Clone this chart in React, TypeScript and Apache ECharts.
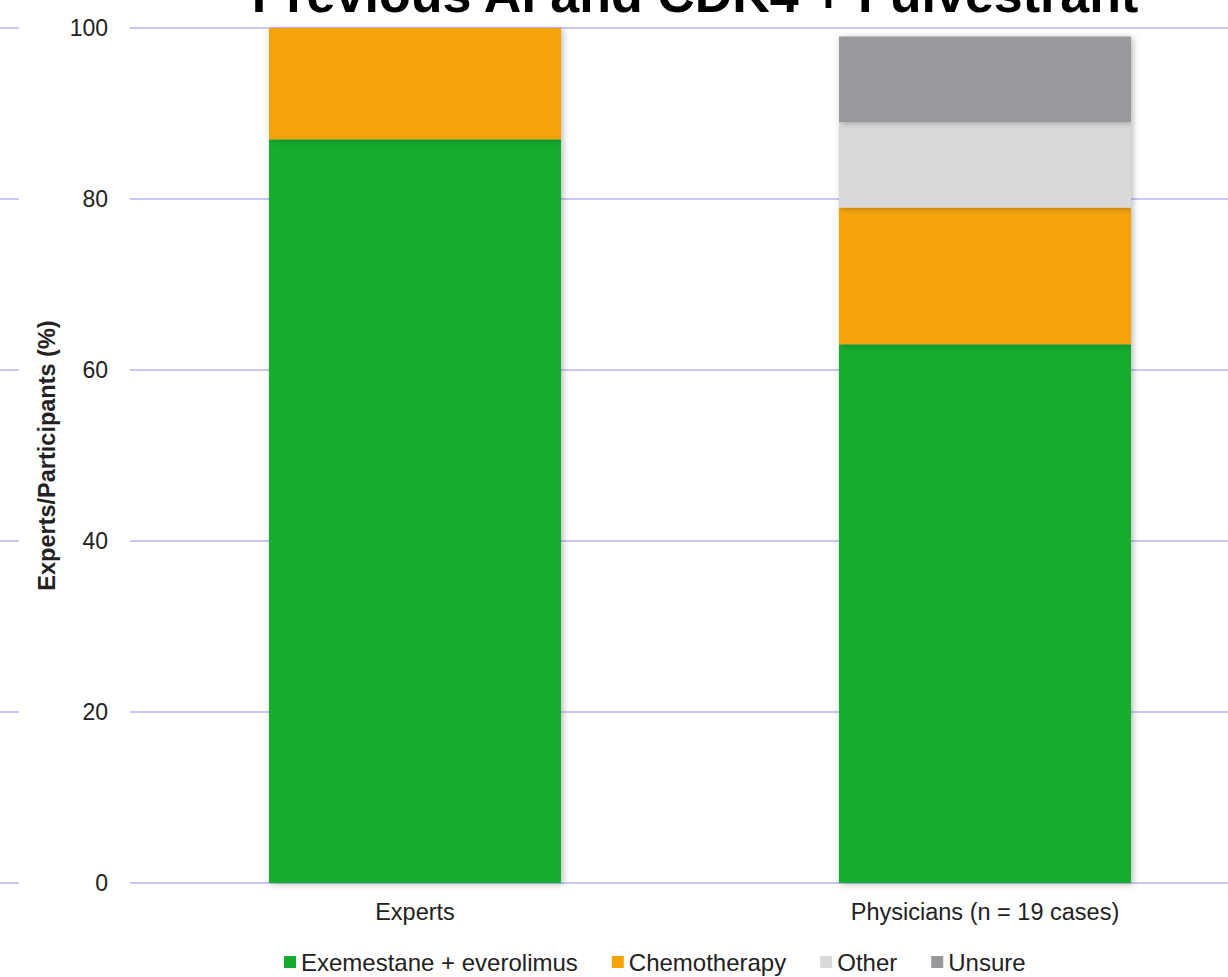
import React, { useEffect, useRef } from "react";
import * as echarts from "echarts";

const titleText = "Previous AI and CDK4 + Fulvestrant";
const categories = ["Experts", "Physicians (n = 19 cases)"];
const seriesNames = ["Exemestane + everolimus", "Chemotherapy", "Other", "Unsure"];
const exemestaneEverolimus = [87, 63];
const chemotherapy = [13, 16];
const other = [0, 10];
const unsure = [0, 10];
const seriesColors = ["#13ac2e", "#f5a30a", "#d9d9d9", "#99989c"];
const yTicks = { min: 0, max: 100, interval: 20 };

const gridLine = { show: true, lineStyle: { color: "#c8c8f6", width: 2 } };

export default function App() {
  const ref = useRef<HTMLDivElement>(null);

  useEffect(() => {
    document.body.style.margin = "0";
    if (!ref.current) return;
    const chart = echarts.init(ref.current, undefined, { renderer: "svg" });
    const values = [exemestaneEverolimus, chemotherapy, other, unsure];

    chart.setOption({
      animation: false,
      backgroundColor: "#ffffff",
      textStyle: { fontFamily: "Liberation Sans, Arial, sans-serif" },
      graphic: [
        {
          type: "text",
          x: 695,
          y: 20,
          silent: true,
          style: {
            text: titleText,
            textAlign: "center",
            textVerticalAlign: "bottom",
            font: "bold 52px 'Liberation Sans', Arial, sans-serif",
            fill: "#000000",
          },
        },
      ],
      legend: {
        bottom: -2,
        left: 279,
        itemWidth: 12,
        itemHeight: 12,
        itemGap: 34,
        icon: "rect",
        data: seriesNames,
        textStyle: { fontSize: 24, color: "#222222" },
      },
      grid: [
        { left: 130, width: 1140, top: 28, bottom: 94, outerBoundsMode: "none" },
        { left: 0, width: 19, top: 28, bottom: 94, outerBoundsMode: "none" },
      ],
      xAxis: [
        {
          type: "category",
          data: categories,
          gridIndex: 0,
          axisLine: { show: false },
          axisTick: { show: false },
          axisLabel: { fontSize: 23.5, color: "#222222", margin: 17 },
        },
        { type: "value", gridIndex: 1, show: false, min: 0, max: 1 },
      ],
      yAxis: [
        {
          type: "value",
          gridIndex: 0,
          ...yTicks,
          name: "Experts/Participants (%)",
          nameLocation: "middle",
          nameGap: 71,
          nameTextStyle: { fontSize: 23.5, fontWeight: "bold", color: "#222222" },
          axisLine: { show: false },
          axisTick: { show: false },
          axisLabel: { fontSize: 23, color: "#222222", margin: 22 },
          splitLine: gridLine,
        },
        {
          type: "value",
          gridIndex: 1,
          ...yTicks,
          axisLine: { show: false },
          axisTick: { show: false },
          axisLabel: { show: false },
          splitLine: gridLine,
        },
      ],
      series: seriesNames.map((name, i) => ({
        name,
        type: "bar",
        stack: "total",
        xAxisIndex: 0,
        yAxisIndex: 0,
        barWidth: 292,
        data: values[i],
        itemStyle: {
          color: seriesColors[i],
          shadowColor: "rgba(0,0,0,0.28)",
          shadowBlur: 6,
          shadowOffsetX: 2,
          shadowOffsetY: 1,
        },
      })),
    });

    return () => chart.dispose();
  }, []);

  return <div ref={ref} style={{ width: 1228, height: 977 }} />;
}
